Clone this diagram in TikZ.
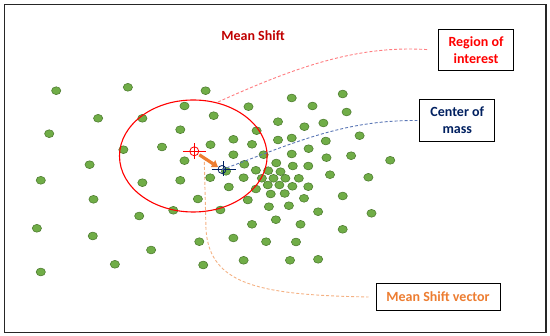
\documentclass[tikz,border=0pt]{standalone}
\usepackage{fontspec}
\setmainfont{Carlito}
\usetikzlibrary{arrows.meta}

\definecolor{dotgreen}{HTML}{70AD47}
\definecolor{dotedge}{HTML}{507E32}
\definecolor{roired}{HTML}{FF0000}
\definecolor{titlered}{HTML}{C00000}
\definecolor{navy}{HTML}{002060}
\definecolor{shiftorange}{HTML}{ED7D31}
\definecolor{leaderred}{HTML}{FF7C80}
\definecolor{leaderblue}{HTML}{5A76B5}
\definecolor{leaderorange}{HTML}{F4B183}

\tikzset{
  dot/.style={fill=dotgreen, draw=dotedge, line width=0.6pt},
  labelbox/.style={draw=black, line width=1pt, fill=white, align=center, font=\fontsize{14}{17}\selectfont\bfseries},
  leader/.style={dash pattern=on 3pt off 2pt, line width=0.9pt}
}

\begin{document}
\begin{tikzpicture}[x=1pt, y=-1pt]
  \useasboundingbox (0,0) rectangle (550,336);
  \draw[line width=1.3pt, black!85] (4.5,4.5) rectangle (546,332.5);

  \node[text=titlered, font=\fontsize{14}{17}\selectfont\bfseries] (title) at (253,36) {Mean Shift};

  \foreach \x/\y in {56.2/90.7, 127.9/87.3, 205.6/90.7, 98.1/118.3, 142.4/118.3, 184.5/106,
      213.7/115.7, 248.5/106.7, 291.7/98, 312.5/106, 342.7/94, 346.6/112, 49.2/133.7,
      180.3/129.7, 256.6/130.7, 278/121.7, 304.4/126.7, 323.4/123, 359.6/135.7,
      123.4/149.7, 162/147, 210.5/144.7, 233.4/139.3, 252/144.3, 278/140, 291.7/138,
      325.8/141, 89.6/164.7, 184.5/160.7, 233.4/154.7, 263.6/154.7, 291.7/154,
      308.6/148.7, 326.5/157.7, 351.1/155.7, 390.2/160.3, 40.8/180.3, 142.4/182.7,
      180.3/180.3, 210.2/177.7, 226/171.3, 243.6/177.7, 244.3/164.3, 255.9/170.3,
      276.3/163, 292.8/166, 308.3/166, 268.2/170.7, 280.5/171.7, 261.9/178.3,
      273.5/178.3, 285.4/178.3, 298.8/178.3, 267.8/185, 279.4/185, 292.4/186.3,
      308.3/186.7, 255.9/189, 270.7/194, 284.7/193.5, 304/198.3, 330/174.7,
      368.4/177.3, 228.8/187, 93.5/199.3, 197.9/199, 247.8/200, 268.9/206.7,
      288.9/205.7, 318.1/211.7, 342.7/196, 371.5/213.3, 139.2/216, 173.3/210.3,
      220.4/210, 252/224.3, 275.9/219.7, 300.5/224.3, 342.7/229.3, 36.9/228.3,
      92.8/236, 151.1/250, 199.3/241.7, 233.4/238, 266.1/241.7, 296/242,
      40.8/272, 114.9/264.3, 203.2/265, 243.6/260.3, 290/260.3, 318.1/259.3}
    \draw[dot] (\x,\y) ellipse (4.6pt and 3.9pt);

  \draw[roired, line width=1.1pt] (193.3,156) ellipse (73.8pt and 56pt);

  \node[labelbox, text=roired, minimum width=75pt, minimum height=41pt] (roi) at (476,49.7) {Region of\\interest};
  \node[labelbox, text=navy, minimum width=75pt, minimum height=42pt] (com) at (457.3,120.5) {Center of\\mass};
  \node[labelbox, text=shiftorange, minimum width=124pt, minimum height=27pt] (msv) at (438,297) {Mean Shift vector};

  \coordinate (oldc) at (194.3,151.3);
  \coordinate (newc) at (223,169.5);
  \coordinate (ellpt) at (218,102);
  \coordinate (vecpt) at (204.3,162);

  \draw[roired, line width=0.8pt] (oldc) circle (4.5pt);
  \draw[roired, line width=0.8pt] ([xshift=-11.5pt]oldc) -- ([xshift=11.5pt]oldc);
  \draw[roired, line width=0.8pt] ([yshift=8pt]oldc) -- ([yshift=-8pt]oldc);
  \draw[navy, line width=0.8pt] ([xshift=-1pt]newc) circle (4pt);
  \draw[navy, line width=0.8pt] ([xshift=-11.5pt]newc) -- ([xshift=12.5pt]newc);
  \draw[navy, line width=0.8pt] ([yshift=8pt]newc) -- ([yshift=-7pt]newc);

  \draw[shiftorange, line width=3.2pt, -{Triangle[length=6pt,width=8pt]}] ([shift={(5pt,-3.5pt)}]oldc) -- ([shift={(-5pt,2.5pt)}]newc);

  \draw[leader, color=leaderred] (ellpt) .. controls (300,65) and (360,45) .. ([xshift=-9pt]roi.west);
  \draw[leader, color=leaderblue] ([xshift=-1pt]newc) .. controls (290,145) and (340,120) .. ([xshift=-2pt]com.west);
  \draw[leader, color=leaderorange] (vecpt) -- (206,230) .. controls (210,285) and (260,295) .. ([xshift=-7pt]msv.west);
\end{tikzpicture}
\end{document}
